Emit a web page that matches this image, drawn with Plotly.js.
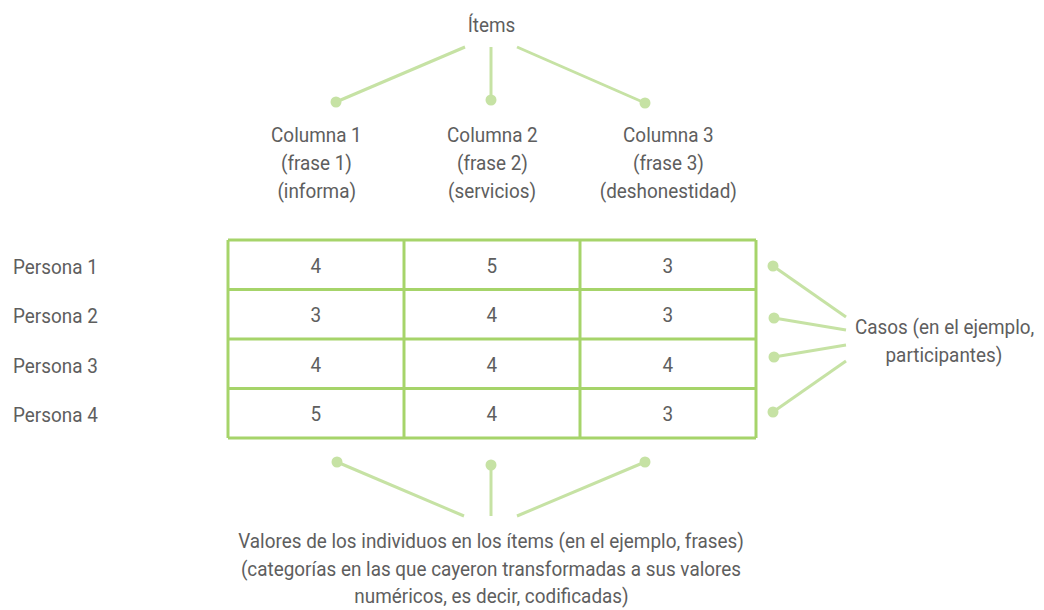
<!DOCTYPE html>
<html><head><meta charset="utf-8">
<script src="https://cdn.plot.ly/plotly-3.0.1.min.js"></script>
<style>html,body{margin:0;padding:0;background:#fff}</style></head>
<body>
<div id="chart" style="width:1044px;height:610px"></div>
<script>
// ---- data ----
const columnNames   = ['Columna 1', 'Columna 2', 'Columna 3'];
const columnPhrases = ['(frase 1)', '(frase 2)', '(frase 3)'];
const columnItems   = ['(informa)', '(servicios)', '(deshonestidad)'];
const rowLabels     = ['Persona 1', 'Persona 2', 'Persona 3', 'Persona 4'];
const col1Values    = [4, 3, 4, 5];
const col2Values    = [5, 4, 4, 4];
const col3Values    = [3, 3, 4, 3];
const topLabel      = 'Ítems';
const rightLabel    = ['Casos (en el ejemplo,', 'participantes)'];
const bottomLabel   = ['Valores de los individuos en los ítems (en el ejemplo, frases)',
                       '(categorías en las que cayeron transformadas a sus valores',
                       'numéricos, es decir, codificadas)'];

// ---- layout geometry (pixel-based axis) ----
const W = 1044, H = 610;
const T = {x0: 228, y0: 240, colW: 176, rowH: 49.5};
const FONT = 'Roboto, "Liberation Sans", sans-serif';
const TXT = '#5e5e5e', GRID = '#a6d46a', LINK = '#c6e2a4';
const FS = 21;
const SX = 0.9; // horizontal condensing of text

const values = [col1Values, col2Values, col3Values];
const nCols = columnNames.length, nRows = rowLabels.length;
const colCenter = j => T.x0 + (j + 0.5) * T.colW;
const rowCenter = i => T.y0 + (i + 0.5) * T.rowH;

// grid lines
const gx = [], gy = [];
for (let k = 0; k <= nCols; k++) { const x = T.x0 + k * T.colW; gx.push(x, x, null); gy.push(T.y0, T.y0 + nRows * T.rowH, null); }
for (let k = 0; k <= nRows; k++) { const y = T.y0 + k * T.rowH; gx.push(T.x0, T.x0 + nCols * T.colW, null); gy.push(y, y, null); }

// connectors: [dot, end]
const topLinks    = [[[336,102],[465,47]], [[491,100],[491,47]], [[645,103],[517,47]]];
const bottomLinks = [[[337,462],[464,516]], [[491,465],[491,516]], [[645,462],[517,516]]];
const rightLinks  = [[[773,266],[846,317]], [[774,318],[846,330]], [[774,357],[846,345]], [[773,412],[846,361]]];
const links = topLinks.concat(bottomLinks, rightLinks);
const lx = [], ly = [], dx = [], dy = [];
links.forEach(([d, e]) => { lx.push(d[0], e[0], null); ly.push(d[1], e[1], null); dx.push(d[0]); dy.push(d[1]); });

const traces = [
  {x: lx, y: ly, mode: 'lines', line: {color: LINK, width: 3}, hoverinfo: 'skip'},
  {x: dx, y: dy, mode: 'markers', marker: {color: LINK, size: 11}, hoverinfo: 'skip'},
  {x: gx, y: gy, mode: 'lines', line: {color: GRID, width: 3}, hoverinfo: 'skip'}
];

const ann = [];
function label(x, y, text, anchor) {
  ann.push({x, y, xref: 'x', yref: 'y', text, showarrow: false, xanchor: anchor || 'center', yanchor: 'middle',
            align: anchor === 'left' ? 'left' : 'center',
            font: {family: FONT, size: FS, color: TXT}});
}
label(491, 25, topLabel);
for (let j = 0; j < nCols; j++) {
  label(colCenter(j), 135, columnNames[j]);
  label(colCenter(j), 163, columnPhrases[j]);
  label(colCenter(j), 191, columnItems[j]);
  for (let i = 0; i < nRows; i++) label(colCenter(j), rowCenter(i) + 1, String(values[j][i]));
}
rowLabels.forEach((r, i) => label(11, rowCenter(i) + 2, r, 'left'));
rightLabel.forEach((t, k) => label(944, 327 + k * 28, t));
bottomLabel.forEach((t, k) => label(491, 541 + k * 27.5, t));

const layout = {
  width: W, height: H, margin: {l: 0, r: 0, t: 0, b: 0},
  paper_bgcolor: '#fff', plot_bgcolor: '#fff', showlegend: false,
  xaxis: {range: [0, W], visible: false, fixedrange: true},
  yaxis: {range: [H, 0], visible: false, fixedrange: true},
  annotations: ann
};
Plotly.newPlot('chart', traces, layout, {staticPlot: true, displayModeBar: false}).then(() => {
  document.querySelectorAll('#chart text.annotation-text').forEach(el => {
    const x = parseFloat(el.getAttribute('x')) || 0;
    const prev = el.getAttribute('transform') || '';
    el.setAttribute('transform', `matrix(${SX},0,0,1,${x * (1 - SX)},0) ${prev}`);
  });
});
</script>
</body></html>
